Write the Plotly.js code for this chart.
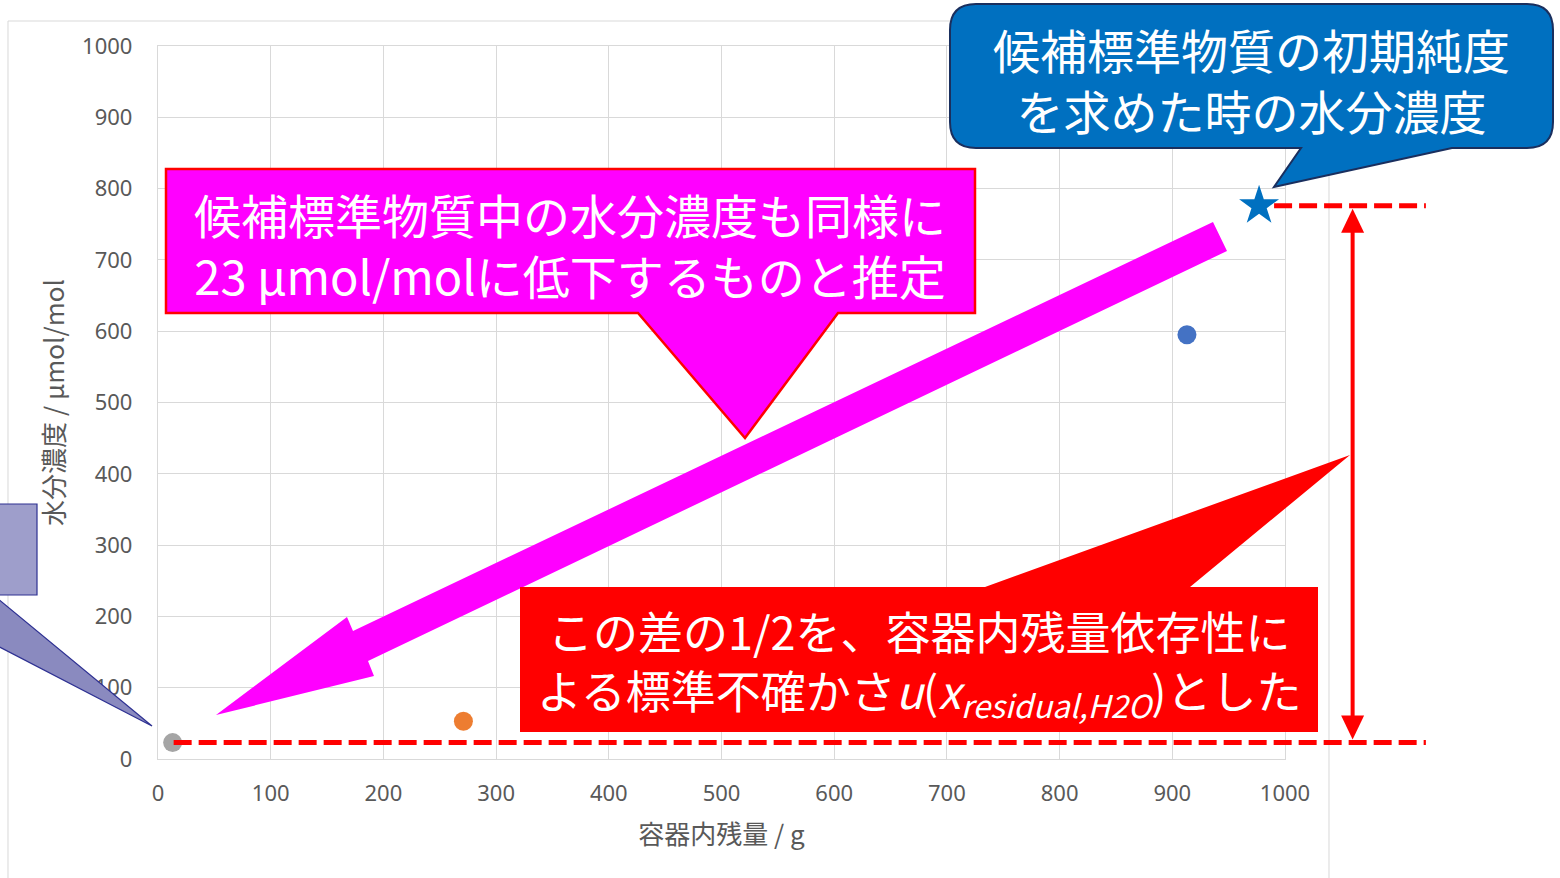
<!DOCTYPE html>
<html>
<head>
<meta charset="utf-8">
<script src="https://cdn.plot.ly/plotly-3.0.1.min.js"></script>
<style>html,body{margin:0;padding:0;background:#fff;}#chart{width:1560px;height:878px;}</style>
</head>
<body>
<div id="chart"></div>
<script>
// ---- data ----
const residualMass = [13, 271, 913];          // 容器内残量 / g
const waterConc = [23, 53, 595];              // 水分濃度 / µmol/mol
const pointColors = ['#a5a5a5', '#ed7d31', '#4472c4'];
const initialMass = [977];                    // 初期純度を求めた時
const initialWater = [776];
const xRange = [0, 1000];
const yRange = [0, 1000];
const tickVals = [0, 100, 200, 300, 400, 500, 600, 700, 800, 900, 1000];
const xTitle = '容器内残量 / g';
const yTitle = '水分濃度 / μmol/mol';
const blueText = ['候補標準物質の初期純度', 'を求めた時の水分濃度'];
const magentaText = ['候補標準物質中の水分濃度も同様に', '23 μmol/molに低下するものと推定'];
const redText = ['この差の1/2を、容器内残量依存性に',
  'よる標準不確かさ<i>u</i>(<i>x</i><sub><i>residual,H2O</i></sub>)とした'];
const lineEndMass = 1125;   // where the red dashed guides end
const arrowMass = 1060;     // x of the vertical double arrow

// ---- geometry helpers ----
const W = 1560, H = 878;
const M = {l: 158, r: 275, t: 46, b: 119};
const PW = W - M.l - M.r, PH = H - M.t - M.b;
const X = px => (px - M.l) / PW;
const Y = py => (M.t + PH - py) / PH;
const xp = v => (v - xRange[0]) / (xRange[1] - xRange[0]);
const yp = v => (v - yRange[0]) / (yRange[1] - yRange[0]);
const xPix = v => M.l + xp(v) * PW;
const yPix = v => M.t + PH - yp(v) * PH;
const f = n => n.toFixed(5);
function poly(pts) {
  return 'M' + pts.map(p => f(X(p[0])) + ',' + f(Y(p[1]))).join(' L') + ' Z';
}

const shapes = [];
// chart area border
shapes.push({type: 'path', xref: 'paper', yref: 'paper', layer: 'below',
  path: poly([[8, 21], [1329, 21], [1329, 920], [8, 920]]),
  line: {color: '#d9d9d9', width: 1}, fillcolor: 'rgba(0,0,0,0)'});

// red dashed guide lines (data-linked)
const gx0 = residualMass[0], gy0 = waterConc[0];
shapes.push({type: 'line', xref: 'paper', yref: 'paper',
  x0: X(xPix(gx0) + 1), x1: xp(lineEndMass), y0: yp(gy0), y1: yp(gy0),
  line: {color: '#ff0000', width: 5, dash: '18px,7px'}});
shapes.push({type: 'line', xref: 'paper', yref: 'paper',
  x0: X(xPix(initialMass[0]) + 15), x1: xp(lineEndMass), y0: yp(initialWater[0]), y1: yp(initialWater[0]),
  line: {color: '#ff0000', width: 5, dash: '18px,7px'}});

// vertical double-headed arrow
const ax = xPix(arrowMass);
const aTop = yPix(initialWater[0]) + 3, aBot = yPix(gy0) - 3;
const hl = 24, hw = 11.5;
shapes.push({type: 'line', xref: 'paper', yref: 'paper',
  x0: X(ax), x1: X(ax), y0: Y(aTop + hl - 2), y1: Y(aBot - hl + 2),
  line: {color: '#ff0000', width: 4}});
shapes.push({type: 'path', xref: 'paper', yref: 'paper',
  path: poly([[ax, aTop], [ax + hw, aTop + hl], [ax - hw, aTop + hl]]),
  fillcolor: '#ff0000', line: {width: 0}});
shapes.push({type: 'path', xref: 'paper', yref: 'paper',
  path: poly([[ax, aBot], [ax + hw, aBot - hl], [ax - hw, aBot - hl]]),
  fillcolor: '#ff0000', line: {width: 0}});

// magenta block arrow
shapes.push({type: 'path', xref: 'paper', yref: 'paper',
  path: poly([[1213, 222], [1227, 251], [368, 661], [374, 676], [216, 715], [347, 617], [353, 631]]),
  fillcolor: '#ff00ff', line: {width: 0}});

// magenta callout
shapes.push({type: 'path', xref: 'paper', yref: 'paper',
  path: poly([[166, 169], [975, 169], [975, 313], [838, 313], [745, 438], [638, 313], [166, 313]]),
  fillcolor: '#ff00ff', line: {color: '#ff0000', width: 2.5}});

// red callout
shapes.push({type: 'path', xref: 'paper', yref: 'paper',
  path: poly([[520, 587], [985, 587], [1350, 455], [1190, 587], [1318, 587], [1318, 732], [520, 732]]),
  fillcolor: '#ff0000', line: {width: 0}});

// blue rounded callout
(function () {
  const x0 = 950, x1 = 1553, y0 = 4, y1 = 148, r = 26;
  const P = (a, b) => f(X(a)) + ',' + f(Y(b));
  const path = 'M' + P(x0 + r, y0) + ' L' + P(x1 - r, y0) + ' Q' + P(x1, y0) + ' ' + P(x1, y0 + r) +
    ' L' + P(x1, y1 - r) + ' Q' + P(x1, y1) + ' ' + P(x1 - r, y1) +
    ' L' + P(1452, y1) + ' L' + P(1274, 187) + ' L' + P(1301, y1) +
    ' L' + P(x0 + r, y1) + ' Q' + P(x0, y1) + ' ' + P(x0, y1 - r) +
    ' L' + P(x0, y0 + r) + ' Q' + P(x0, y0) + ' ' + P(x0 + r, y0) + ' Z';
  shapes.push({type: 'path', xref: 'paper', yref: 'paper', path: path,
    fillcolor: '#0070c0', line: {color: '#1a2f5e', width: 2}});
})();

// left (partially hidden) callout
shapes.push({type: 'path', xref: 'paper', yref: 'paper',
  path: poly([[-14, 589], [152, 726], [-14, 640]]),
  fillcolor: '#8a8abf', line: {color: '#2e3192', width: 1.2}});
shapes.push({type: 'path', xref: 'paper', yref: 'paper',
  path: poly([[-30, 504], [37, 504], [37, 595], [-30, 595]]),
  fillcolor: '#9e9ecb', line: {color: '#2e3192', width: 1.2}});

// ---- text ----
const annotations = [];
const cjk = '"Noto Sans CJK JP", "Noto Sans", sans-serif';
function txt(lines, px, py, size) {
  annotations.push({xref: 'paper', yref: 'paper', x: X(px), y: Y(py), text: lines.join('<br>'),
    showarrow: false, xanchor: 'center', yanchor: 'middle', align: 'center',
    font: {family: cjk, size: size, color: '#ffffff'}});
}
txt(blueText, 1251, 79, 47);
txt(magentaText, 570, 244, 47);
txt(redText, 919, 662, 45);

// ---- traces ----
const traces = [
  {type: 'scatter', mode: 'markers', x: residualMass, y: waterConc,
    marker: {color: pointColors, size: 19}, cliponaxis: false, hoverinfo: 'x+y'},
  {type: 'scatter', mode: 'markers', x: initialMass, y: initialWater,
    marker: {color: '#0070c0', size: 30, symbol: 'star'}, cliponaxis: false}
];

const axisFont = {family: '"Noto Sans", "Open Sans", sans-serif', size: 22, color: '#595959'};
const titleFont = {family: cjk, size: 26, color: '#595959'};
const layout = {
  width: W, height: H, margin: M, showlegend: false,
  paper_bgcolor: '#ffffff', plot_bgcolor: '#ffffff',
  xaxis: {range: xRange, tickvals: tickVals, showgrid: true, gridcolor: '#d9d9d9', gridwidth: 1.3,
    zeroline: false, showline: true, linecolor: '#d9d9d9', linewidth: 1.3, mirror: true,
    ticks: '', tickfont: axisFont, ticklabelstandoff: 14, automargin: false,
    title: {text: xTitle, font: titleFont, standoff: 20}},
  yaxis: {range: yRange, tickvals: tickVals, showgrid: true, gridcolor: '#d9d9d9', gridwidth: 1.3,
    zeroline: false, showline: true, linecolor: '#d9d9d9', linewidth: 1.3, mirror: true,
    ticks: '', tickfont: axisFont, ticklabelstandoff: 20, automargin: false,
    title: {text: yTitle, font: titleFont, standoff: 10}},
  shapes: shapes, annotations: annotations
};
Plotly.newPlot('chart', traces, layout, {displayModeBar: false, responsive: false});
</script>
</body>
</html>
